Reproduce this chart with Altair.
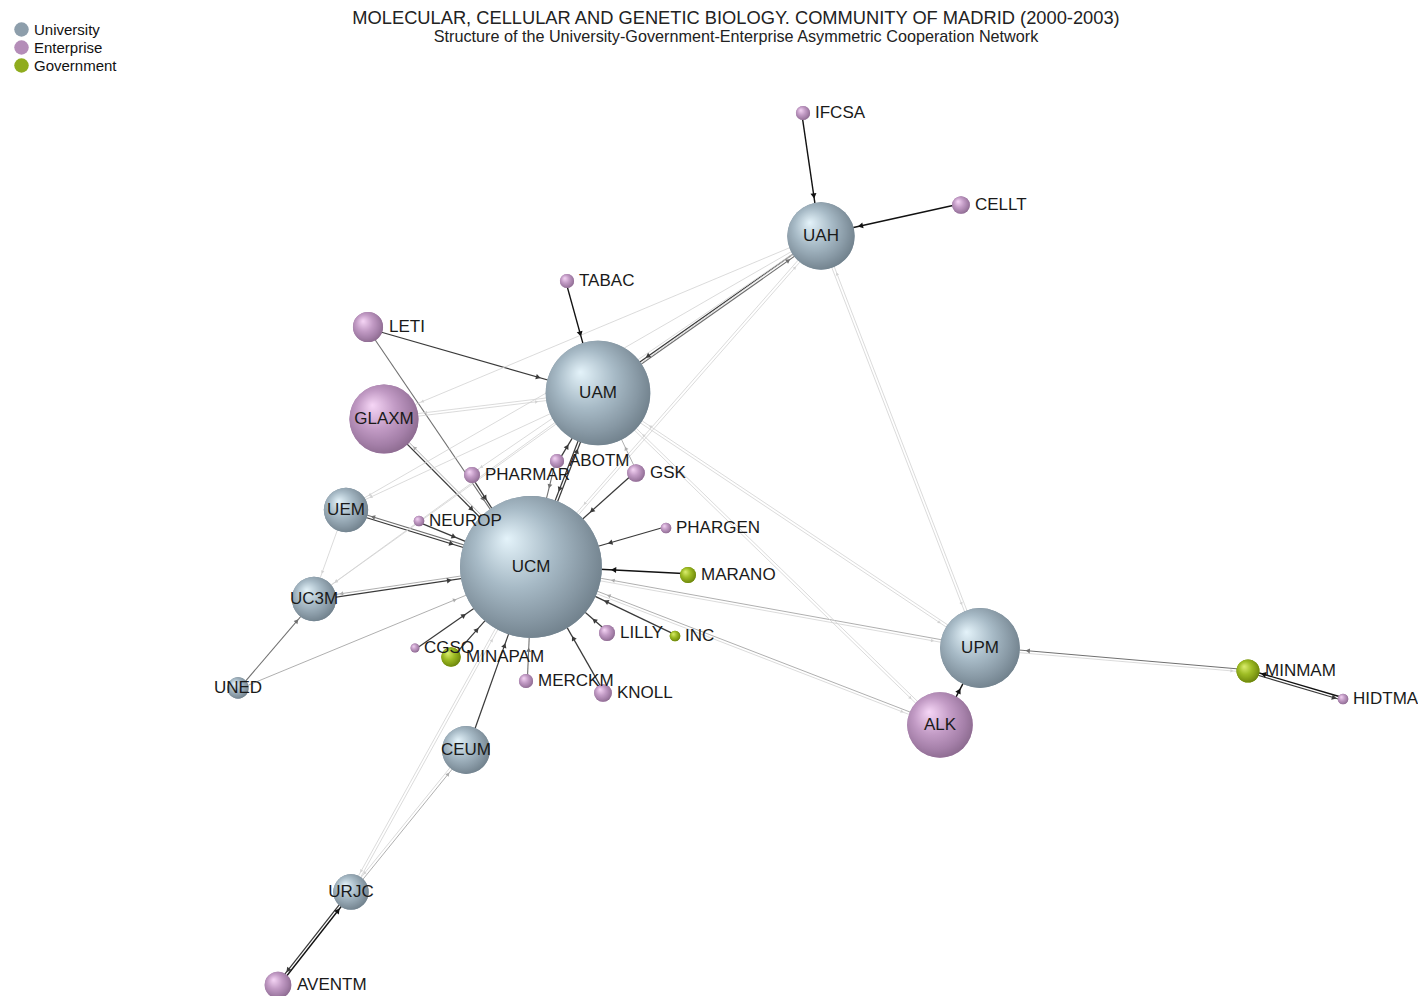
import math
import altair as alt
import pandas as pd

# ---------------- data ----------------
names = ["IFCSA", "CELLT", "UAH", "TABAC", "LETI", "UAM", "GLAXM", "PHARMAR", "ABOTM", "GSK",
         "UEM", "NEUROP", "PHARGEN", "UCM", "MARANO", "UC3M", "LILLY", "INC", "CGSO", "MINAPAM",
         "MERCKM", "KNOLL", "UNED", "UPM", "MINMAM", "HIDTMA", "ALK", "CEUM", "URJC", "AVENTM"]
kinds = ["Enterprise", "Enterprise", "University", "Enterprise", "Enterprise", "University",
         "Enterprise", "Enterprise", "Enterprise", "Enterprise", "University", "Enterprise",
         "Enterprise", "University", "Government", "University", "Enterprise", "Government",
         "Enterprise", "Government", "Enterprise", "Enterprise", "University", "University",
         "Government", "Enterprise", "Enterprise", "University", "University", "Enterprise"]
node_x = [803, 961, 821, 567, 368, 598, 384, 472, 557, 636,
          346, 419, 666, 531, 688, 314, 607, 675, 415, 451,
          526, 603, 238, 980, 1248, 1343, 940, 466, 351, 278]
node_y = [113, 205, 236, 281, 327, 393, 419, 475, 461, 473,
          510, 521, 528, 567, 575, 599, 633, 636, 648, 657,
          681, 693, 688, 648, 671, 699, 725, 750, 892, 985]
node_r = [8, 10, 38, 8, 17, 59, 39, 9, 8, 10,
          25, 6, 6, 80, 9, 25, 9, 6, 5, 11,
          8, 10, 12, 45, 13, 6, 37, 27, 20, 15]

edge_src = ["IFCSA", "CELLT", "TABAC", "LETI", "LETI", "GLAXM", "UCM", "UAM", "GLAXM", "UAH",
            "UAH", "UAH", "UAM", "UAH", "UCM", "UAH", "UPM", "UAM", "UCM", "ABOTM",
            "ABOTM", "PHARMAR", "GSK", "GSK", "UEM", "UCM", "NEUROP", "UEM", "UC3M", "UCM",
            "UNED", "UNED", "UAM", "UAM", "PHARGEN", "MARANO", "INC", "LILLY", "KNOLL", "MERCKM",
            "CGSO", "MINAPAM", "UPM", "UCM", "UPM", "UAM", "ALK", "ALK", "UAM", "UCM",
            "ALK", "MINMAM", "UPM", "HIDTMA", "MINMAM", "CEUM", "URJC", "CEUM", "URJC", "UCM",
            "AVENTM", "URJC", "UAH", "UAH"]
edge_dst = ["UAH", "UAH", "UAM", "UAM", "UCM", "UCM", "GLAXM", "GLAXM", "UAM", "GLAXM",
            "UEM", "UAM", "UAH", "UCM", "UAH", "UPM", "UAH", "UCM", "UAM", "UAM",
            "UCM", "UCM", "UCM", "UAM", "UCM", "UEM", "UCM", "UC3M", "UCM", "UC3M",
            "UC3M", "UCM", "UEM", "UC3M", "UCM", "UCM", "UCM", "UCM", "UCM", "UCM",
            "UCM", "UCM", "UCM", "UPM", "UAM", "UPM", "UCM", "UAM", "ALK", "ALK",
            "UPM", "UPM", "MINMAM", "MINMAM", "HIDTMA", "UCM", "CEUM", "URJC", "UCM", "URJC",
            "URJC", "AVENTM", "PHARMAR", "UC3M"]
edge_w = [5, 5, 5, 4, 3, 4, 2, 1, 1, 1,
          1, 4, 3, 1, 1, 1, 1, 4, 4, 4,
          3, 4, 4, 2, 4, 3, 4, 1, 4, 2,
          3, 2, 1, 1, 4, 5, 4, 4, 4, 3,
          4, 4, 2, 1, 1, 1, 2, 1, 1, 1,
          5, 3, 1, 5, 4, 4, 2, 1, 1, 1,
          5, 4, 1, 1]

legend_kinds = ["University", "Enterprise", "Government"]
legend_colors = ["#8d9eab", "#b48db8", "#8fac1e"]

title_text = "MOLECULAR, CELLULAR AND GENETIC BIOLOGY. COMMUNITY OF MADRID (2000-2003)"
subtitle_text = "Structure of the University-Government-Enterprise Asymmetric Cooperation Network"

# ---------------- layout ----------------
W, H = 1410, 950
PAD_TOP = 38
X0, Y0 = 8, 8 + PAD_TOP
FONT = "Liberation Sans"

nodes = pd.DataFrame(dict(name=names, kind=kinds, x=node_x, y=node_y, r=node_r))
nodes["centered"] = (nodes["kind"] == "University") | (nodes["r"] > 30)
nodes["lx"] = [x if c else x + r + 4 for x, r, c in zip(nodes.x, nodes.r, nodes.centered)]

pos = {n: (x, y, r) for n, x, y, r in zip(names, node_x, node_y, node_r)}
rows = []
for s, t, w in zip(edge_src, edge_dst, edge_w):
    sx, sy, _ = pos[s]
    tx, ty, tr = pos[t]
    dx, dy = tx - sx, ty - sy
    L = math.hypot(dx, dy)
    ux, uy = dx / L, dy / L
    ox, oy = -uy * 1.3, ux * 1.3
    rows.append(dict(
        w=w, sx=sx + ox, sy=sy + oy, tx=tx + ox, ty=ty + oy,
        ax=tx + ox - ux * (tr + 3.5), ay=ty + oy - uy * (tr + 3.5),
        ang=math.degrees(math.atan2(ux, -uy)) % 360,
        asize=6 + 6 * w,
    ))
edges = pd.DataFrame(rows)

xs = alt.Scale(domain=[X0, X0 + W], nice=False, zero=False)
ys = alt.Scale(domain=[Y0, Y0 + H], reverse=True, nice=False, zero=False)
wstroke = alt.Scale(domain=[1, 2, 3, 4, 5],
                    range=["#d2d2d2", "#ababab", "#707070", "#3a3a3a", "#111111"])

edge_layer = alt.Chart(edges).mark_rule().encode(
    x=alt.X("sx:Q", scale=xs, axis=None),
    y=alt.Y("sy:Q", scale=ys, axis=None),
    x2="tx:Q", y2="ty:Q",
    stroke=alt.Stroke("w:O", scale=wstroke, legend=None),
    strokeWidth=alt.StrokeWidth("w:Q", scale=alt.Scale(domain=[1, 5], range=[0.8, 1.4]), legend=None),
)

arrow_layer = alt.Chart(edges).mark_point(shape="triangle", filled=True, opacity=1).encode(
    x=alt.X("ax:Q", scale=xs, axis=None),
    y=alt.Y("ay:Q", scale=ys, axis=None),
    angle=alt.Angle("ang:Q", scale=None),
    size=alt.Size("asize:Q", scale=None),
    fill=alt.Fill("w:O", scale=wstroke, legend=None),
)

size_enc = alt.Size("r:Q", scale=alt.Scale(type="pow", exponent=2, domain=[0, 80],
                                           range=[0, math.pi * 80 * 80]), legend=None)

base_nodes = alt.Chart(nodes).mark_circle(opacity=1).encode(
    x=alt.X("x:Q", scale=xs, axis=None),
    y=alt.Y("y:Q", scale=ys, axis=None),
    size=size_enc,
    color=alt.Color("kind:N", scale=alt.Scale(domain=legend_kinds, range=legend_colors),
                    legend=alt.Legend(title=None, orient="none", legendX=6, legendY=-24,
                                      symbolType="circle", symbolSize=210, symbolStrokeWidth=0,
                                      labelFontSize=15, labelFont=FONT, labelColor="#111",
                                      labelOffset=5, rowPadding=2, padding=0)),
)

grad_stops = {
    "University": ["#e4f3fa", "#a7bac6", "#8798a4", "#6a7a85"],
    "Enterprise": ["#f6d6f6", "#c29bc5", "#a47fa8", "#856588"],
    "Government": ["#dcee70", "#9fbd25", "#819c14", "#627a0c"],
}


def sphere(k):
    c = grad_stops[k]
    fill = {"gradient": "radial", "x1": 0.33, "y1": 0.3, "r1": 0.0,
            "x2": 0.45, "y2": 0.45, "r2": 0.62,
            "stops": [{"offset": 0.0, "color": c[0]}, {"offset": 0.45, "color": c[1]},
                      {"offset": 0.75, "color": c[2]}, {"offset": 1.0, "color": c[3]}]}
    return alt.Chart(nodes).mark_circle(opacity=1, fill=fill).encode(
        x=alt.X("x:Q", scale=xs, axis=None),
        y=alt.Y("y:Q", scale=ys, axis=None),
        size=size_enc,
    ).transform_filter(alt.datum.kind == k)


lab_center = alt.Chart(nodes).mark_text(
    align="center", baseline="middle", fontSize=17, font=FONT, color="#1a1a1a"
).encode(
    x=alt.X("lx:Q", scale=xs, axis=None),
    y=alt.Y("y:Q", scale=ys, axis=None),
    text="name:N",
).transform_filter(alt.datum.centered)

lab_left = alt.Chart(nodes).mark_text(
    align="left", baseline="middle", fontSize=17, font=FONT, color="#1a1a1a"
).encode(
    x=alt.X("lx:Q", scale=xs, axis=None),
    y=alt.Y("y:Q", scale=ys, axis=None),
    text="name:N",
).transform_filter(~alt.datum.centered)

chart = alt.layer(
    edge_layer, arrow_layer, base_nodes,
    sphere("University"), sphere("Enterprise"), sphere("Government"),
    lab_center, lab_left,
).properties(
    width=W, height=H,
    padding={"left": 0, "top": PAD_TOP, "right": 0, "bottom": 0},
    autosize=alt.AutoSizeParams(type="none"),
    title=alt.TitleParams(
        text=title_text, subtitle=subtitle_text, anchor="middle", dx=23, dy=28,
        font=FONT, subtitleFont=FONT, fontSize=18.3, subtitleFontSize=16.2,
        fontWeight="normal", color="#222", subtitleColor="#222",
        offset=4, subtitlePadding=1,
    ),
).configure_view(stroke=None)

chart.save("out.html", embed_options={"renderer": "svg", "actions": False})
